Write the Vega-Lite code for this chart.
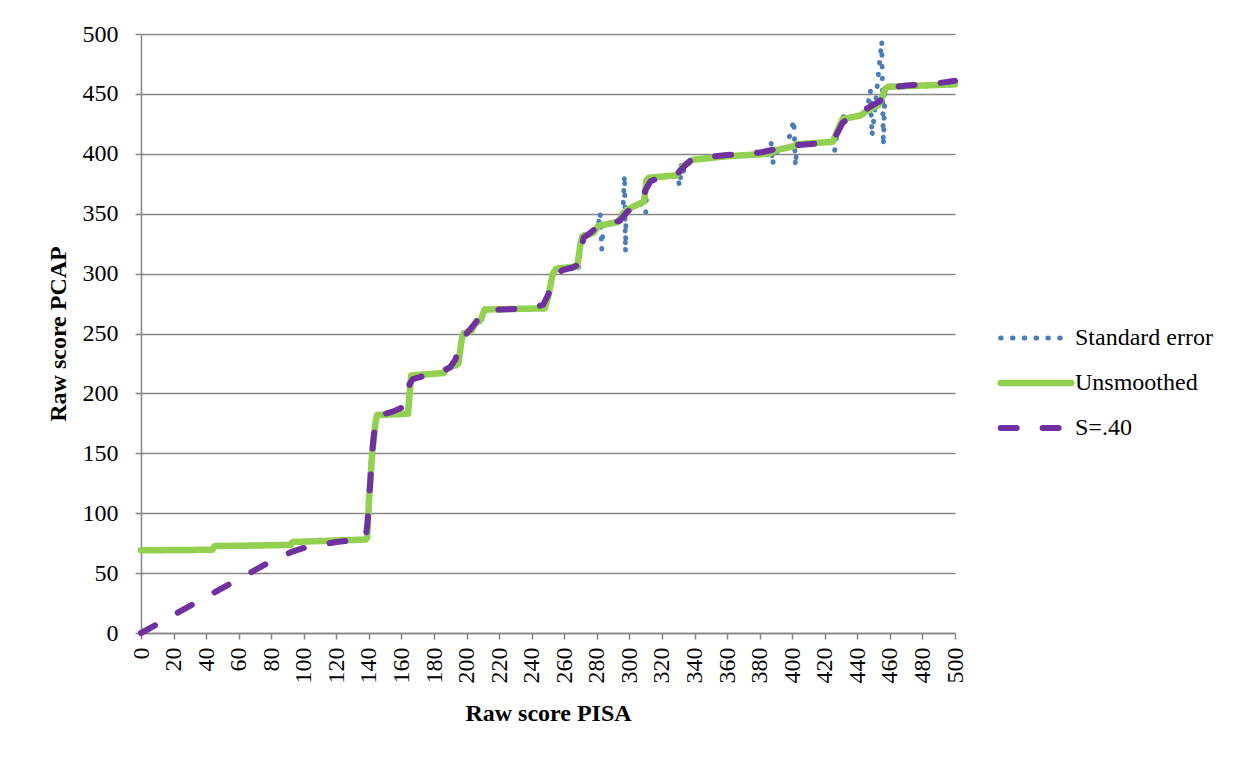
{
"$schema": "https://vega.github.io/schema/vega-lite/v6.json",
"width": 814, "height": 599,
"autosize": {"type": "none"},
"padding": {"left": 141, "top": 34, "right": 298, "bottom": 124},
"background": "white",
"config": {
  "view": {"stroke": null},
  "font": "Liberation Serif, Times New Roman, serif",
  "axis": {"labelFont": "Liberation Serif, Times New Roman, serif", "labelFontSize": 24, "labelColor": "black", "titleFont": "Liberation Serif, Times New Roman, serif", "titleFontSize": 24, "titleFontWeight": "bold", "titleColor": "black", "domainColor": "#868686", "domainWidth": 1.5, "tickColor": "#868686", "tickWidth": 1.5, "tickSize": 6, "gridColor": "#868686", "gridWidth": 1.5},
  "legend": {"orient": "none", "legendX": 883, "legendY": 292, "symbolType": "stroke", "symbolSize": 5000, "labelFont": "Liberation Serif, Times New Roman, serif", "labelFontSize": 24, "labelColor": "black", "labelOffset": 27, "rowPadding": 20}
},
"datasets": {
  "d": [
    {"s":"Standard error","x":0,"y":69},{"s":"Standard error","x":44,"y":69.5},{"s":"Standard error","x":45,"y":72.5},{"s":"Standard error","x":92,"y":73.5},{"s":"Standard error","x":93,"y":76},{"s":"Standard error","x":138,"y":78},{"s":"Standard error","x":139,"y":80},{"s":"Standard error","x":140,"y":110},{"s":"Standard error","x":141,"y":140},{"s":"Standard error","x":142,"y":150},{"s":"Standard error","x":143,"y":160},{"s":"Standard error","x":144,"y":175},{"s":"Standard error","x":145,"y":182},{"s":"Standard error","x":164,"y":183},{"s":"Standard error","x":165,"y":200},{"s":"Standard error","x":166,"y":215},{"s":"Standard error","x":186,"y":217},{"s":"Standard error","x":187,"y":220},{"s":"Standard error","x":193,"y":222},{"s":"Standard error","x":195,"y":226},{"s":"Standard error","x":197,"y":245},{"s":"Standard error","x":198,"y":250},{"s":"Standard error","x":201,"y":250},{"s":"Standard error","x":203,"y":254},{"s":"Standard error","x":205,"y":258},{"s":"Standard error","x":207,"y":256},{"s":"Standard error","x":209,"y":263},{"s":"Standard error","x":211,"y":270},{"s":"Standard error","x":248,"y":271},{"s":"Standard error","x":250,"y":280},{"s":"Standard error","x":253,"y":300},{"s":"Standard error","x":255,"y":304},{"s":"Standard error","x":265,"y":304},{"s":"Standard error","x":267,"y":301},{"s":"Standard error","x":269,"y":306},{"s":"Standard error","x":270,"y":325},{"s":"Standard error","x":271,"y":333},{"s":"Standard error","x":274,"y":331},{"s":"Standard error","x":278,"y":334},{"s":"Standard error","x":281,"y":341},{"s":"Standard error","x":282,"y":351},{"s":"Standard error","x":283,"y":320},{"s":"Standard error","x":284,"y":340},{"s":"Standard error","x":287,"y":342},{"s":"Standard error","x":293,"y":343},{"s":"Standard error","x":295,"y":348},{"s":"Standard error","x":296,"y":352},{"s":"Standard error","x":297,"y":382},{"s":"Standard error","x":297.6,"y":318},{"s":"Standard error","x":298,"y":356},{"s":"Standard error","x":300,"y":354},{"s":"Standard error","x":304,"y":357},{"s":"Standard error","x":308,"y":358},{"s":"Standard error","x":310,"y":351},{"s":"Standard error","x":311,"y":378},{"s":"Standard error","x":312,"y":380},{"s":"Standard error","x":329,"y":382},{"s":"Standard error","x":331,"y":373},{"s":"Standard error","x":332,"y":392},{"s":"Standard error","x":333,"y":385},{"s":"Standard error","x":335,"y":392},{"s":"Standard error","x":337,"y":394},{"s":"Standard error","x":339,"y":395},{"s":"Standard error","x":360,"y":398},{"s":"Standard error","x":386,"y":400},{"s":"Standard error","x":387,"y":410},{"s":"Standard error","x":388,"y":391},{"s":"Standard error","x":389,"y":401},{"s":"Standard error","x":396,"y":403},{"s":"Standard error","x":401,"y":428},{"s":"Standard error","x":402,"y":390},{"s":"Standard error","x":403,"y":407},{"s":"Standard error","x":410,"y":408},{"s":"Standard error","x":425,"y":410},{"s":"Standard error","x":426,"y":402},{"s":"Standard error","x":428,"y":420},{"s":"Standard error","x":431,"y":431},{"s":"Standard error","x":436,"y":430},{"s":"Standard error","x":442,"y":432},{"s":"Standard error","x":446,"y":436},{"s":"Standard error","x":448,"y":453},{"s":"Standard error","x":449,"y":415},{"s":"Standard error","x":451,"y":440},{"s":"Standard error","x":455,"y":494},{"s":"Standard error","x":456,"y":407},{"s":"Standard error","x":457,"y":454},{"s":"Standard error","x":459,"y":456},{"s":"Standard error","x":480,"y":456},{"s":"Standard error","x":490,"y":458},{"s":"Standard error","x":500,"y":457},
    {"s":"Unsmoothed","x":0,"y":69},{"s":"Unsmoothed","x":44,"y":69.5},{"s":"Unsmoothed","x":45,"y":72.5},{"s":"Unsmoothed","x":92,"y":73.5},{"s":"Unsmoothed","x":93,"y":76},{"s":"Unsmoothed","x":138,"y":78},{"s":"Unsmoothed","x":139,"y":80},{"s":"Unsmoothed","x":140,"y":110},{"s":"Unsmoothed","x":142,"y":150},{"s":"Unsmoothed","x":144,"y":175},{"s":"Unsmoothed","x":145,"y":182},{"s":"Unsmoothed","x":164,"y":183},{"s":"Unsmoothed","x":165,"y":200},{"s":"Unsmoothed","x":166,"y":215},{"s":"Unsmoothed","x":186,"y":217},{"s":"Unsmoothed","x":187,"y":220},{"s":"Unsmoothed","x":195,"y":225},{"s":"Unsmoothed","x":197,"y":245},{"s":"Unsmoothed","x":198,"y":250},{"s":"Unsmoothed","x":203,"y":252},{"s":"Unsmoothed","x":205,"y":258},{"s":"Unsmoothed","x":209,"y":262},{"s":"Unsmoothed","x":211,"y":270},{"s":"Unsmoothed","x":248,"y":271},{"s":"Unsmoothed","x":250,"y":280},{"s":"Unsmoothed","x":253,"y":300},{"s":"Unsmoothed","x":255,"y":304},{"s":"Unsmoothed","x":268,"y":306},{"s":"Unsmoothed","x":270,"y":325},{"s":"Unsmoothed","x":271,"y":331},{"s":"Unsmoothed","x":278,"y":334},{"s":"Unsmoothed","x":281,"y":340},{"s":"Unsmoothed","x":293,"y":343},{"s":"Unsmoothed","x":296,"y":350},{"s":"Unsmoothed","x":298,"y":353},{"s":"Unsmoothed","x":304,"y":357},{"s":"Unsmoothed","x":309,"y":360},{"s":"Unsmoothed","x":310.5,"y":378},{"s":"Unsmoothed","x":312,"y":380},{"s":"Unsmoothed","x":329,"y":382},{"s":"Unsmoothed","x":333,"y":390},{"s":"Unsmoothed","x":337,"y":393},{"s":"Unsmoothed","x":339,"y":395},{"s":"Unsmoothed","x":360,"y":398},{"s":"Unsmoothed","x":386,"y":400},{"s":"Unsmoothed","x":390,"y":403},{"s":"Unsmoothed","x":400,"y":406},{"s":"Unsmoothed","x":403,"y":408},{"s":"Unsmoothed","x":425,"y":410},{"s":"Unsmoothed","x":428,"y":420},{"s":"Unsmoothed","x":431,"y":429},{"s":"Unsmoothed","x":442,"y":432},{"s":"Unsmoothed","x":446,"y":436},{"s":"Unsmoothed","x":453,"y":441},{"s":"Unsmoothed","x":455,"y":446},{"s":"Unsmoothed","x":457,"y":454},{"s":"Unsmoothed","x":459,"y":456},{"s":"Unsmoothed","x":480,"y":457},{"s":"Unsmoothed","x":500,"y":458},
    {"s":"S=.40","x":0,"y":0},{"s":"S=.40","x":20,"y":15},{"s":"S=.40","x":40,"y":30},{"s":"S=.40","x":60,"y":45},{"s":"S=.40","x":80,"y":60},{"s":"S=.40","x":93,"y":68},{"s":"S=.40","x":100,"y":71},{"s":"S=.40","x":120,"y":76},{"s":"S=.40","x":135,"y":78},{"s":"S=.40","x":138,"y":80},{"s":"S=.40","x":139,"y":90},{"s":"S=.40","x":140,"y":110},{"s":"S=.40","x":141,"y":130},{"s":"S=.40","x":142,"y":150},{"s":"S=.40","x":143,"y":165},{"s":"S=.40","x":144,"y":175},{"s":"S=.40","x":145,"y":181},{"s":"S=.40","x":150,"y":183},{"s":"S=.40","x":155,"y":185},{"s":"S=.40","x":160,"y":188},{"s":"S=.40","x":163,"y":191},{"s":"S=.40","x":164,"y":200},{"s":"S=.40","x":165,"y":208},{"s":"S=.40","x":167,"y":212},{"s":"S=.40","x":175,"y":215},{"s":"S=.40","x":185,"y":218},{"s":"S=.40","x":190,"y":222},{"s":"S=.40","x":193,"y":228},{"s":"S=.40","x":196,"y":240},{"s":"S=.40","x":200,"y":250},{"s":"S=.40","x":205,"y":258},{"s":"S=.40","x":208,"y":264},{"s":"S=.40","x":212,"y":268},{"s":"S=.40","x":220,"y":270},{"s":"S=.40","x":240,"y":271},{"s":"S=.40","x":247,"y":274},{"s":"S=.40","x":250,"y":282},{"s":"S=.40","x":253,"y":292},{"s":"S=.40","x":256,"y":300},{"s":"S=.40","x":259,"y":303},{"s":"S=.40","x":265,"y":305},{"s":"S=.40","x":268,"y":307},{"s":"S=.40","x":270,"y":320},{"s":"S=.40","x":272,"y":330},{"s":"S=.40","x":276,"y":334},{"s":"S=.40","x":282,"y":341},{"s":"S=.40","x":294,"y":344},{"s":"S=.40","x":299,"y":352},{"s":"S=.40","x":305,"y":357},{"s":"S=.40","x":308,"y":362},{"s":"S=.40","x":310,"y":370},{"s":"S=.40","x":313,"y":377},{"s":"S=.40","x":318,"y":380},{"s":"S=.40","x":325,"y":381},{"s":"S=.40","x":330,"y":384},{"s":"S=.40","x":334,"y":390},{"s":"S=.40","x":338,"y":395},{"s":"S=.40","x":345,"y":397},{"s":"S=.40","x":360,"y":399},{"s":"S=.40","x":380,"y":401},{"s":"S=.40","x":390,"y":404},{"s":"S=.40","x":400,"y":407},{"s":"S=.40","x":410,"y":408},{"s":"S=.40","x":420,"y":409},{"s":"S=.40","x":425,"y":411},{"s":"S=.40","x":428,"y":418},{"s":"S=.40","x":431,"y":426},{"s":"S=.40","x":435,"y":430},{"s":"S=.40","x":440,"y":432},{"s":"S=.40","x":445,"y":437},{"s":"S=.40","x":450,"y":441},{"s":"S=.40","x":454,"y":444},{"s":"S=.40","x":456,"y":450},{"s":"S=.40","x":458,"y":455},{"s":"S=.40","x":470,"y":457},{"s":"S=.40","x":480,"y":458},{"s":"S=.40","x":490,"y":459},{"s":"S=.40","x":500,"y":461}
  ]
},
"data": {"name": "d"},
"encoding": {
  "x": {"field": "x", "type": "quantitative", "scale": {"domain": [0, 500], "nice": false}, "axis": {"title": "Raw score PISA", "values": [0,20,40,60,80,100,120,140,160,180,200,220,240,260,280,300,320,340,360,380,400,420,440,460,480,500], "labelAngle": 270, "labelAlign": "right", "labelBaseline": "middle", "labelPadding": 8, "grid": false, "titlePadding": 18}},
  "y": {"field": "y", "type": "quantitative", "scale": {"domain": [0, 500], "nice": false}, "axis": {"title": "Raw score PCAP", "values": [0,50,100,150,200,250,300,350,400,450,500], "labelPadding": 17, "grid": true, "titlePadding": 12}},
  "color": {"field": "s", "type": "nominal", "scale": {"domain": ["Standard error", "Unsmoothed", "S=.40"], "range": ["#4A7EBB", "#92D050", "#7030A0"]}, "legend": {"title": null, "encode": {"symbols": {"update": {"strokeCap": {"value": "round"}, "strokeWidth": {"signal": "datum.value === 'Unsmoothed' ? 6.5 : datum.value === 'S=.40' ? 6 : 5"}}}}}},
  "strokeDash": {"field": "s", "type": "nominal", "scale": {"domain": ["Standard error", "Unsmoothed", "S=.40"], "range": [[0.5, 11.3], [1, 0], [16, 26]]}, "legend": {"title": null, "encode": {"symbols": {"update": {"strokeCap": {"value": "round"}, "strokeWidth": {"signal": "datum.value === 'Unsmoothed' ? 6.5 : datum.value === 'S=.40' ? 6 : 5"}}}}}}
},
"layer": [
  {"transform": [{"filter": "datum.s === 'Standard error'"}], "mark": {"type": "line", "strokeCap": "round", "strokeJoin": "round", "strokeWidth": 5}},
  {"transform": [{"filter": "datum.s === 'Unsmoothed'"}], "mark": {"type": "line", "strokeCap": "round", "strokeJoin": "round", "strokeWidth": 6.5}},
  {"transform": [{"filter": "datum.s === 'S=.40'"}], "mark": {"type": "line", "strokeCap": "round", "strokeJoin": "round", "strokeWidth": 6}}
]
}
